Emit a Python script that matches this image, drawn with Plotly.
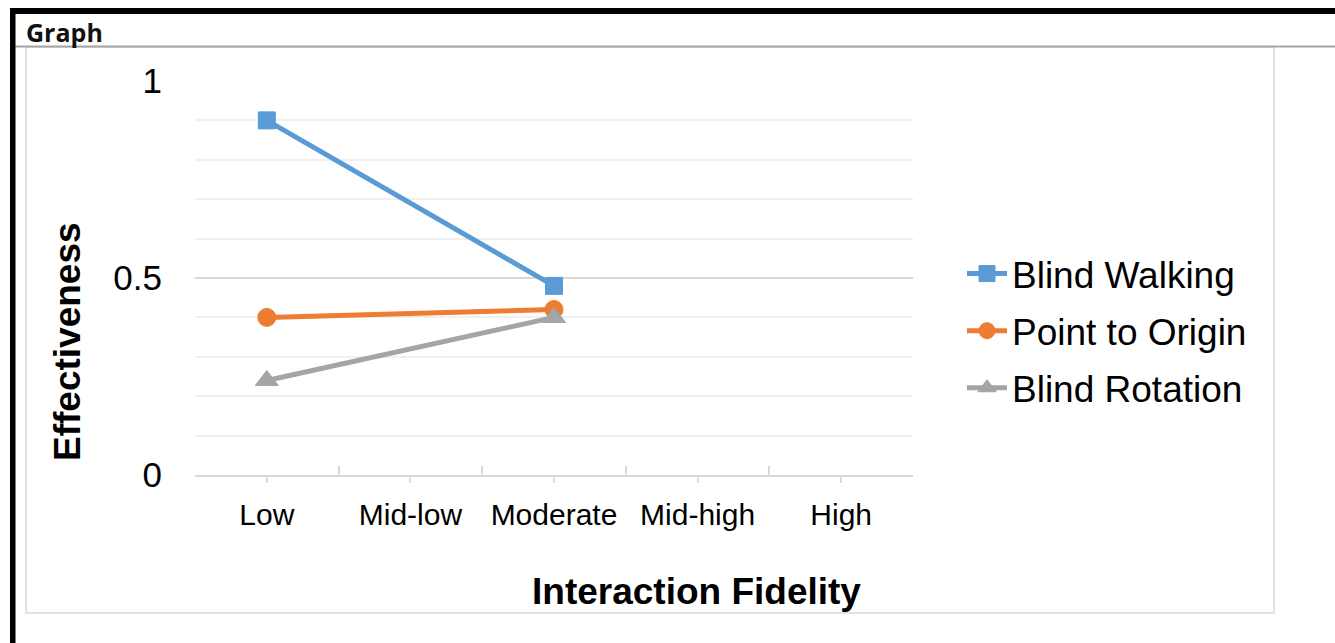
import plotly.graph_objects as go

# Fidelity levels on the horizontal axis
fidelity = ["Low", "Mid-low", "Moderate", "Mid-high", "High"]

# Effectiveness per task (None where no measurement exists)
blind_walking = [0.90, None, 0.48, None, None]
point_to_origin = [0.40, None, 0.42, None, None]
blind_rotation = [0.24, None, 0.40, None, None]

y_ticks = [0, 0.5, 1]
y_tick_text = ["0", "0.5", "1"]

W, H = 1335, 643
PL, PR, PT, PB = 195, 913, 81, 475  # plot area in pixels


def fx(px):
    return (px - PL) / (PR - PL)


def fy(py):
    return (PB - py) / (PB - PT)


FONT = "Liberation Sans"

series = [
    ("Blind Walking", blind_walking, "#5B9BD5", "square", 17),
    ("Point to Origin", point_to_origin, "#ED7D31", "circle", 18),
    ("Blind Rotation", blind_rotation, "#A5A5A5", "triangle-up", 20),
]

fig = go.Figure()
for name, vals, color, symbol, size in series:
    fig.add_trace(go.Scatter(
        x=fidelity, y=vals, name=name, mode="lines+markers",
        connectgaps=True, legendgroup=name,
        line=dict(color=color, width=5),
        marker=dict(symbol=symbol, size=size, color=color,
                    line=dict(color=color, width=1)),
        xaxis="x", yaxis="y",
    ))

# invisible trace carrying the secondary axis used for centre tick marks
fig.add_trace(go.Scatter(x=fidelity, y=[None] * 5, xaxis="x2", yaxis="y",
                         showlegend=False, hoverinfo="skip"))

shapes = [
    # outer chart frame
    dict(type="rect", xref="paper", yref="paper",
         x0=fx(26), x1=fx(1274), y0=fy(613), y1=fy(47),
         line=dict(color="#d9d9d9", width=1.5), layer="below"),
    # header separator
    dict(type="line", xref="paper", yref="paper",
         x0=fx(15), x1=fx(1335), y0=fy(46.5), y1=fy(46.5),
         line=dict(color="#a6a6a6", width=2)),
    # heavy black borders
    dict(type="rect", xref="paper", yref="paper",
         x0=fx(10), x1=fx(1336), y0=fy(14), y1=fy(8),
         fillcolor="black", line=dict(width=0)),
    dict(type="rect", xref="paper", yref="paper",
         x0=fx(10), x1=fx(15.5), y0=fy(644), y1=fy(8),
         fillcolor="black", line=dict(width=0)),
]

annotations = [
    dict(text="<b>Graph</b>", xref="paper", yref="paper",
         x=fx(24), y=fy(32), xanchor="left", yanchor="middle",
         showarrow=False,
         font=dict(family="Open Sans", size=25, color="#111")),
    dict(text="<b>Effectiveness</b>", xref="paper", yref="paper",
         x=fx(67), y=fy(342), xanchor="center", yanchor="middle",
         textangle=-90, showarrow=False,
         font=dict(family=FONT, size=37, color="black")),
    dict(text="<b>Interaction Fidelity</b>", xref="paper", yref="paper",
         x=fx(696), y=fy(591), xanchor="center", yanchor="middle",
         showarrow=False,
         font=dict(family=FONT, size=37, color="black")),
]

fig.update_layout(
    width=W, height=H,
    margin=dict(l=PL, r=W - PR, t=PT, b=H - PB, pad=0),
    paper_bgcolor="white", plot_bgcolor="white",
    font=dict(family=FONT, color="black"),
    shapes=shapes, annotations=annotations,
    showlegend=True,
    legend=dict(x=fx(962), y=fy(331), xanchor="left", yanchor="middle",
                font=dict(family=FONT, size=37, color="black"),
                bgcolor="rgba(0,0,0,0)", tracegroupgap=6,
                itemwidth=40),
    xaxis=dict(type="category", categoryorder="array", categoryarray=fidelity,
               range=[-0.5, 4.5], showline=True, linecolor="#d9d9d9",
               linewidth=1.5, showgrid=False, zeroline=False,
               ticks="inside", tickson="boundaries", ticklen=9,
               tickcolor="#d9d9d9", tickwidth=1.5,
               tickfont=dict(family=FONT, size=30, color="black"),
               ticklabelstandoff=12, fixedrange=True),
    xaxis2=dict(type="category", categoryorder="array", categoryarray=fidelity,
                range=[-0.5, 4.5], overlaying="x", side="bottom",
                showline=False, showgrid=False, zeroline=False,
                ticks="outside", ticklen=7, tickcolor="#d9d9d9",
                tickwidth=1.5, showticklabels=False, matches="x"),
    yaxis=dict(range=[0, 1], tickvals=y_ticks, ticktext=y_tick_text,
               showline=False, zeroline=False, showgrid=True,
               gridcolor="#d9d9d9", gridwidth=1.5,
               minor=dict(dtick=0.1, showgrid=True, gridcolor="#f0f0f0",
                          gridwidth=1.5),
               tickfont=dict(family=FONT, size=35, color="black"),
               ticks="", ticklabelstandoff=32, fixedrange=True),
)

fig.write_html("out.html")
